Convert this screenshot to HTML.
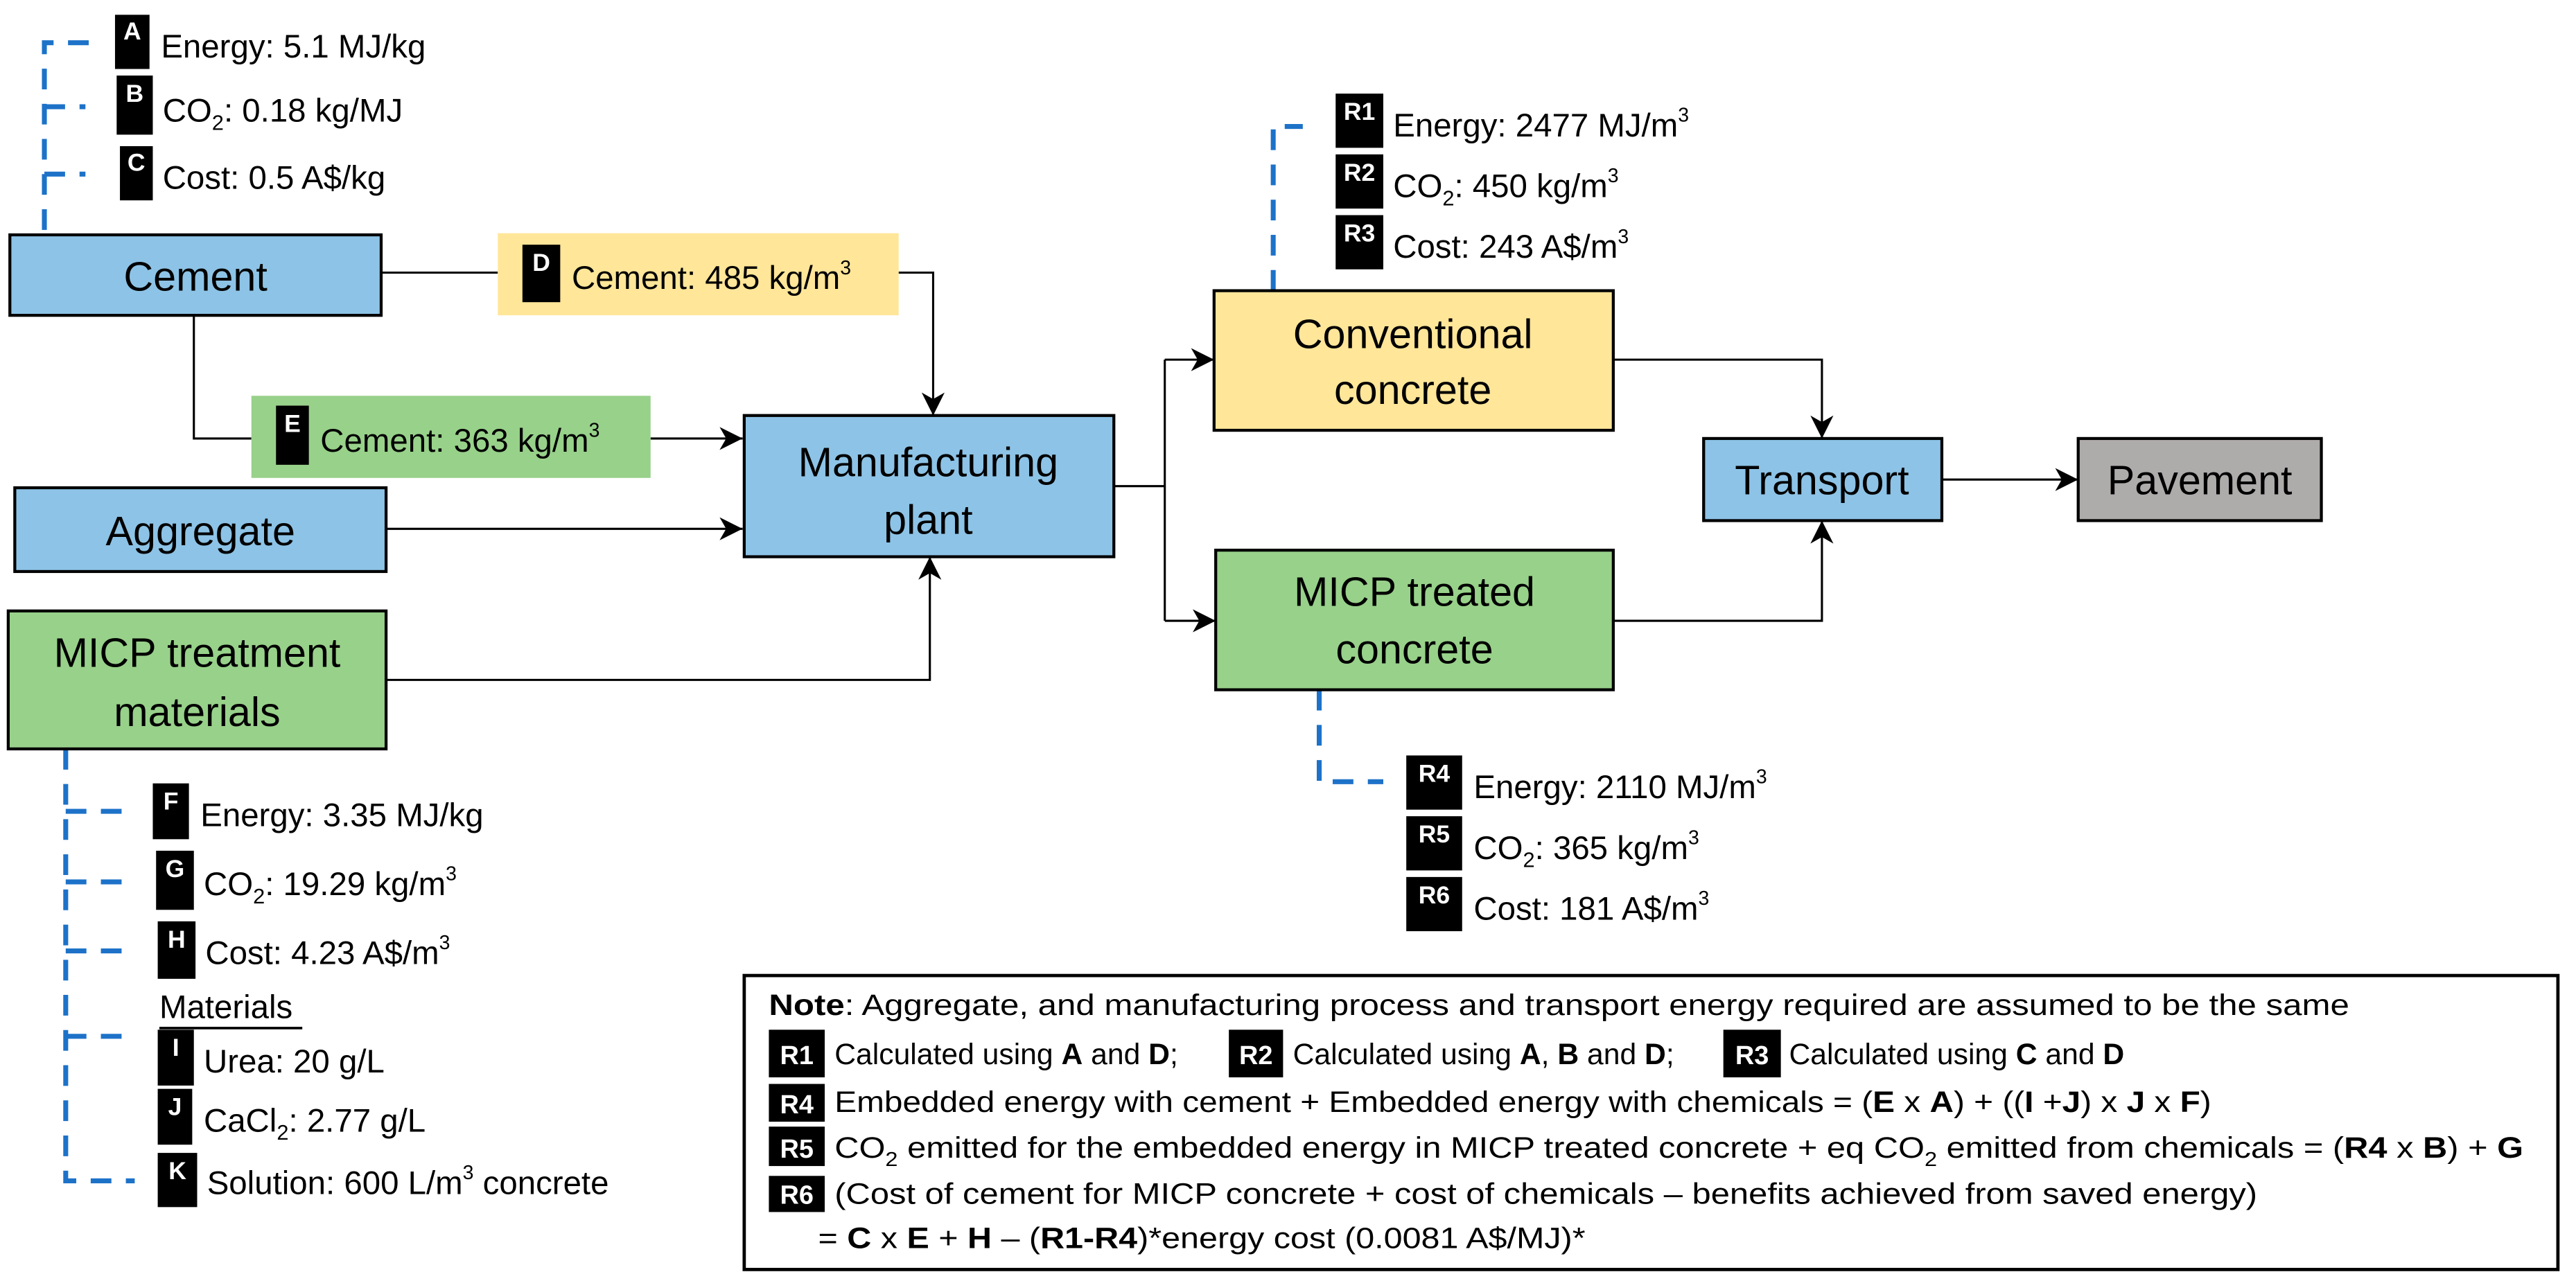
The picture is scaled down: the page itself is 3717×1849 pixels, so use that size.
<!DOCTYPE html>
<html><head><meta charset="utf-8"><style>
html,body{margin:0;padding:0;background:#fff}
svg{display:block}
text{font-family:"Liberation Sans",sans-serif;fill:#000}
.lb{font-size:15px;font-weight:bold;fill:#fff;text-anchor:middle}
.sm{font-size:20px}
.big{font-size:25px;text-anchor:middle}
.nt{font-size:18px}
</style></head><body>
<svg width="3717" height="1849" viewBox="0 0 1568 780" xmlns="http://www.w3.org/2000/svg">
<defs>
<marker id="ar" markerUnits="userSpaceOnUse" viewBox="0 0 14 14" refX="14" refY="7" markerWidth="14" markerHeight="14" orient="auto">
<path d="M0,0 L14,7 L0,14 L4,7 Z" fill="#000"/></marker>
</defs>
<g fill="none" stroke="#1D72C8" stroke-width="3" stroke-dasharray="12.6 8.8">
<path d="M27,140 V26 H56"/>
<path d="M27,65 H52"/>
<path d="M27,106 H52"/>
<path d="M775,177 V77 H793"/>
<path d="M803,420 V476 H842"/>
<path d="M40,456 V719 H82"/>
<path d="M40,494 H80"/>
<path d="M40,537 H80"/>
<path d="M40,579 H80"/>
<path d="M40,631 H80"/>
</g>
<g fill="none" stroke="#000" stroke-width="1.3">
<path d="M232,166 H303"/>
<path d="M547,166 H568 V253" marker-end="url(#ar)"/>
<path d="M118,192 V267 H153"/>
<path d="M396,267 H452" marker-end="url(#ar)"/>
<path d="M235,322 H452" marker-end="url(#ar)"/>
<path d="M235,414 H566 V339" marker-end="url(#ar)"/>
<path d="M678,296 H709"/>
<path d="M709,219 V378"/>
<path d="M709,219 H739" marker-end="url(#ar)"/>
<path d="M709,378 H740" marker-end="url(#ar)"/>
<path d="M982,219 H1109 V267" marker-end="url(#ar)"/>
<path d="M982,378 H1109 V317" marker-end="url(#ar)"/>
<path d="M1182,292 H1265" marker-end="url(#ar)"/>
</g>
<g stroke="#000" stroke-width="1.8">
<rect x="6" y="143" width="226" height="49" fill="#8DC3E6"/>
<rect x="9" y="297" width="226" height="51" fill="#8DC3E6"/>
<rect x="5" y="372" width="230" height="84" fill="#98D18A"/>
<rect x="453" y="253" width="225" height="86" fill="#8DC3E6"/>
<rect x="739" y="177" width="243" height="85" fill="#FFE699"/>
<rect x="740" y="335" width="242" height="85" fill="#98D18A"/>
<rect x="1037" y="267" width="145" height="50" fill="#8DC3E6"/>
<rect x="1265" y="267" width="148" height="50" fill="#AEABAB"/>
<rect x="453" y="594" width="1104" height="179" fill="none" stroke-width="2"/>
</g>
<rect x="303" y="142" width="244" height="50" fill="#FFE699"/>
<rect x="153" y="241" width="243" height="50" fill="#98D18A"/>
<text class="big" x="119" y="177">Cement</text>
<text class="big" x="122" y="332">Aggregate</text>
<text class="big" x="120" y="406">MICP treatment</text>
<text class="big" x="120" y="442">materials</text>
<text class="big" x="565" y="290">Manufacturing</text>
<text class="big" x="565" y="325">plant</text>
<text class="big" x="860" y="212">Conventional</text>
<text class="big" x="860" y="246">concrete</text>
<text class="big" x="861" y="369">MICP treated</text>
<text class="big" x="861" y="404">concrete</text>
<text class="big" x="1109" y="301">Transport</text>
<text class="big" x="1339" y="301">Pavement</text>
<g fill="#000">
<rect x="70" y="9" width="21" height="33"/><rect x="71" y="46" width="22" height="36"/><rect x="73" y="89" width="20" height="33"/>
<rect x="318" y="149" width="23" height="35"/><rect x="168" y="247" width="20" height="36"/>
<rect x="813" y="57" width="29" height="33"/><rect x="813" y="94" width="29" height="33"/><rect x="813" y="131" width="29" height="33"/>
<rect x="856" y="460" width="34" height="33"/><rect x="856" y="497" width="34" height="33"/><rect x="856" y="534" width="34" height="33"/>
<rect x="93" y="477" width="22" height="34"/><rect x="95" y="518" width="23" height="36"/><rect x="96" y="561" width="23" height="35"/>
<rect x="96" y="627" width="22" height="34"/><rect x="96" y="663" width="21" height="34"/><rect x="96" y="702" width="24" height="33"/>
<rect x="468" y="627" width="34" height="29"/><rect x="748" y="627" width="33" height="29"/><rect x="1049" y="627" width="35" height="29"/>
<rect x="468" y="660" width="34" height="23"/><rect x="468" y="686" width="34" height="24"/><rect x="468" y="716" width="34" height="22"/>
</g>
<text class="lb" x="80.5" y="24">A</text><text class="lb" x="82" y="62">B</text><text class="lb" x="83" y="104">C</text>
<text class="lb" x="329.5" y="165">D</text><text class="lb" x="178" y="263">E</text>
<text class="lb" x="827.5" y="73">R1</text><text class="lb" x="827.5" y="110">R2</text><text class="lb" x="827.5" y="147">R3</text>
<text class="lb" x="873" y="476">R4</text><text class="lb" x="873" y="513">R5</text><text class="lb" x="873" y="550">R6</text>
<text class="lb" x="104" y="493">F</text><text class="lb" x="106.5" y="534">G</text><text class="lb" x="107.5" y="577">H</text>
<text class="lb" x="107" y="643">I</text><text class="lb" x="106.5" y="679">J</text><text class="lb" x="108" y="718">K</text>
<g font-size="16" font-weight="bold" text-anchor="middle">
<text x="485" y="648" style="fill:#fff">R1</text><text x="764.5" y="648" style="fill:#fff">R2</text><text x="1066.5" y="648" style="fill:#fff">R3</text>
<text x="485" y="678" style="fill:#fff">R4</text><text x="485" y="705" style="fill:#fff">R5</text><text x="485" y="733" style="fill:#fff">R6</text>
</g>
<text class="sm" x="98" y="35">Energy: 5.1 MJ/kg</text>
<text class="sm" x="99" y="74">CO<tspan dy="5" font-size="13">2</tspan><tspan dy="-5">: 0.18 kg/MJ</tspan></text>
<text class="sm" x="99" y="115">Cost: 0.5 A$/kg</text>
<text class="sm" x="348" y="176">Cement: 485 kg/m<tspan dy="-9" font-size="12">3</tspan></text>
<text class="sm" x="195" y="275">Cement: 363 kg/m<tspan dy="-9" font-size="12">3</tspan></text>
<text class="sm" x="848" y="83">Energy: 2477 MJ/m<tspan dy="-9" font-size="12">3</tspan></text>
<text class="sm" x="848" y="120">CO<tspan dy="5" font-size="13">2</tspan><tspan dy="-5">: 450 kg/m</tspan><tspan dy="-9" font-size="12">3</tspan></text>
<text class="sm" x="848" y="157">Cost: 243 A$/m<tspan dy="-9" font-size="12">3</tspan></text>
<text class="sm" x="897" y="486">Energy: 2110 MJ/m<tspan dy="-9" font-size="12">3</tspan></text>
<text class="sm" x="897" y="523">CO<tspan dy="5" font-size="13">2</tspan><tspan dy="-5">: 365 kg/m</tspan><tspan dy="-9" font-size="12">3</tspan></text>
<text class="sm" x="897" y="560">Cost: 181 A$/m<tspan dy="-9" font-size="12">3</tspan></text>
<text class="sm" x="122" y="503">Energy: 3.35 MJ/kg</text>
<text class="sm" x="124" y="545">CO<tspan dy="5" font-size="13">2</tspan><tspan dy="-5">: 19.29 kg/m</tspan><tspan dy="-9" font-size="12">3</tspan></text>
<text class="sm" x="125" y="587">Cost: 4.23 A$/m<tspan dy="-9" font-size="12">3</tspan></text>
<text class="sm" x="97" y="620">Materials</text>
<line x1="97" y1="626" x2="184" y2="626" stroke="#000" stroke-width="1.5"/>
<text class="sm" x="124" y="653">Urea: 20 g/L</text>
<text class="sm" x="124" y="689">CaCl<tspan dy="5" font-size="13">2</tspan><tspan dy="-5">: 2.77 g/L</tspan></text>
<text class="sm" x="126" y="727">Solution: 600 L/m<tspan dy="-9" font-size="12">3</tspan><tspan dy="9"> concrete</tspan></text>
<text class="nt" x="468" y="618" textLength="962" lengthAdjust="spacingAndGlyphs"><tspan font-weight="bold">Note</tspan>: Aggregate, and manufacturing process and transport energy required are assumed to be the same</text>
<text class="nt" x="508" y="648">Calculated using <tspan font-weight="bold">A</tspan> and <tspan font-weight="bold">D</tspan>;</text>
<text class="nt" x="787" y="648">Calculated using <tspan font-weight="bold">A</tspan>, <tspan font-weight="bold">B</tspan> and <tspan font-weight="bold">D</tspan>;</text>
<text class="nt" x="1089" y="648">Calculated using <tspan font-weight="bold">C</tspan> and <tspan font-weight="bold">D</tspan></text>
<text class="nt" x="508" y="677" textLength="838" lengthAdjust="spacingAndGlyphs">Embedded energy with cement + Embedded energy with chemicals = (<tspan font-weight="bold">E</tspan> x <tspan font-weight="bold">A</tspan>) + ((<tspan font-weight="bold">I</tspan> +<tspan font-weight="bold">J</tspan>) x <tspan font-weight="bold">J</tspan> x <tspan font-weight="bold">F</tspan>)</text>
<text class="nt" x="508" y="705" textLength="1028" lengthAdjust="spacingAndGlyphs">CO<tspan dy="5" font-size="12">2</tspan><tspan dy="-5"> emitted for the embedded energy in MICP treated concrete + eq CO</tspan><tspan dy="5" font-size="12">2</tspan><tspan dy="-5"> emitted from chemicals = (</tspan><tspan font-weight="bold">R4</tspan> x <tspan font-weight="bold">B</tspan>) + <tspan font-weight="bold">G</tspan></text>
<text class="nt" x="508" y="733" textLength="866" lengthAdjust="spacingAndGlyphs">(Cost of cement for MICP concrete + cost of chemicals – benefits achieved from saved energy)</text>
<text class="nt" x="498" y="760" textLength="467" lengthAdjust="spacingAndGlyphs">= <tspan font-weight="bold">C</tspan> x <tspan font-weight="bold">E</tspan> + <tspan font-weight="bold">H</tspan> – (<tspan font-weight="bold">R1-R4</tspan>)*energy cost (0.0081 A$/MJ)*</text>
</svg>
</body></html>
